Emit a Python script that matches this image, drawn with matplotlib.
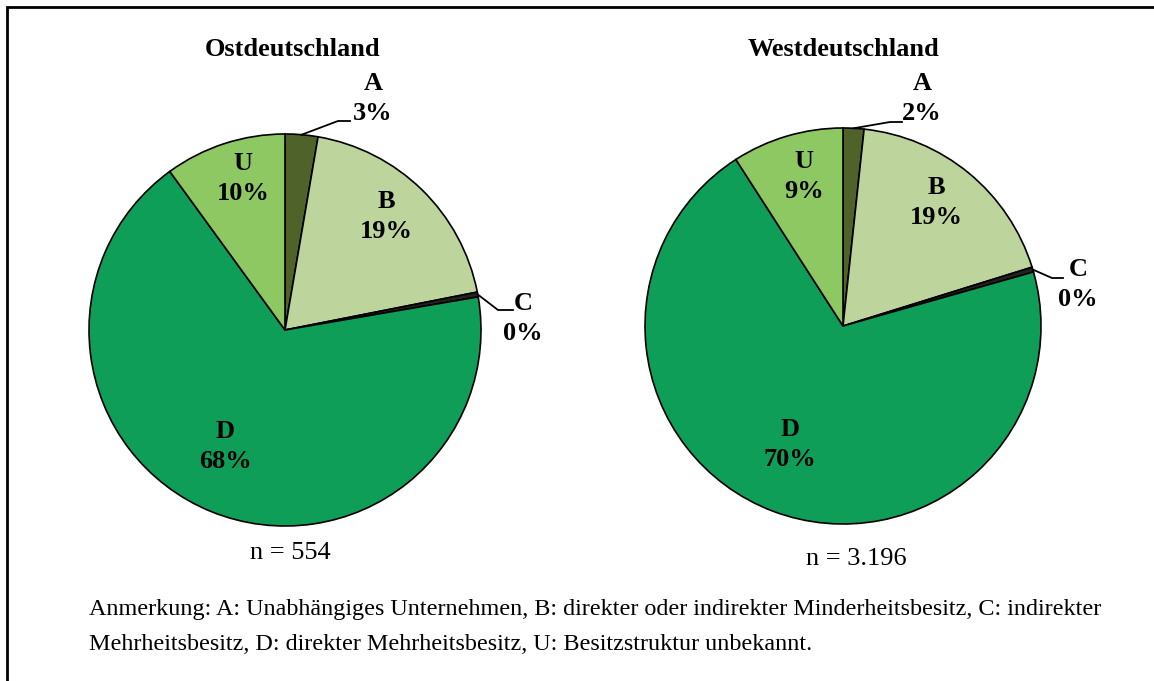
import numpy as np
import matplotlib
matplotlib.use("Agg")
import matplotlib.pyplot as plt

# ---- data ----
categories = ["A", "B", "C", "D", "U"]
east_values = [2.7, 19.2, 0.4, 67.7, 10.0]
west_values = [1.7, 18.5, 0.4, 70.3, 9.1]
east_labels = ["3%", "19%", "0%", "68%", "10%"]
west_labels = ["2%", "19%", "0%", "70%", "9%"]
titles = ["Ostdeutschland", "Westdeutschland"]
n_texts = ["n = 554", "n = 3.196"]
note_lines = ["Anmerkung: A: Unabhängiges Unternehmen, B: direkter oder indirekter Minderheitsbesitz, C: indirekter",
              "Mehrheitsbesitz, D: direkter Mehrheitsbesitz, U: Besitzstruktur unbekannt."]

colors = ["#4f6229", "#bdd59c", "#222222", "#0e9e58", "#8dc862"]

plt.rcParams['font.family'] = ['Liberation Serif', 'DejaVu Serif']

W, H = 1154, 681
fig = plt.figure(figsize=(W / 100, H / 100), dpi=100)
ax = fig.add_axes([0, 0, 1, 1])

def Y(y):
    return H - y

pies = [
    dict(values=east_values, labels=east_labels, center=(285, 330), r=196,
         title_xy=(293, 50), n_xy=(290, 553),
         lab={"A": (373, 98), "B": (386, 217), "C": (523, 319), "D": (225, 446), "U": (243, 178)},
         lead={"A": [(338, 121), (350, 121)], "C": [(498, 310), (513, 310)]}),
    dict(values=west_values, labels=west_labels, center=(843, 326), r=198,
         title_xy=(843, 50), n_xy=(856, 559),
         lab={"A": (922, 98), "B": (936, 203), "C": (1078, 284), "D": (790, 444), "U": (804, 176)},
         lead={"A": [(890, 122), (902, 122)], "C": [(1052, 278), (1063, 278)]}),
]

for k, p in enumerate(pies):
    cx, cy = p["center"]
    wedges, _ = ax.pie(p["values"], colors=colors, startangle=90, counterclock=False,
                       center=(cx, Y(cy)), radius=p["r"],
                       wedgeprops=dict(edgecolor="black", linewidth=1.2))
    for i, (cat, lbl) in enumerate(zip(categories, p["labels"])):
        lx, ly = p["lab"][cat]
        ax.text(lx, Y(ly - 15), cat, ha="center", va="center", fontsize=19, fontweight="bold")
        ax.text(lx, Y(ly + 15), lbl, ha="center", va="center", fontsize=19, fontweight="bold")
        if cat in p["lead"]:
            w = wedges[i]
            th = np.deg2rad((w.theta1 + w.theta2) / 2)
            sx = cx + p["r"] * np.cos(th)
            sy = Y(cy) + p["r"] * np.sin(th)
            pts = [(sx, sy)] + [(x, Y(y)) for x, y in p["lead"][cat]]
            ax.plot([q[0] for q in pts], [q[1] for q in pts], color="black", lw=1.3)
    tx, ty = p["title_xy"]
    ax.text(tx, Y(ty), titles[k], ha="center", va="center", fontsize=19, fontweight="bold")
    nx, ny = p["n_xy"]
    ax.text(nx, Y(ny), n_texts[k], ha="center", va="center", fontsize=19)

for j, line in enumerate(note_lines):
    ax.text(89, Y(610 + 34 * j), line, ha="left", va="center", fontsize=17.4)

# frame (top and left visible)
ax.plot([7, 7, W + 10], [Y(H + 10), Y(7), Y(7)], color="black", lw=2, solid_joinstyle="miter",
        clip_on=False)

ax.set_xlim(0, W)
ax.set_ylim(0, H)
ax.set_aspect("auto")
ax.axis("off")
fig.savefig("out.png", dpi=100)
